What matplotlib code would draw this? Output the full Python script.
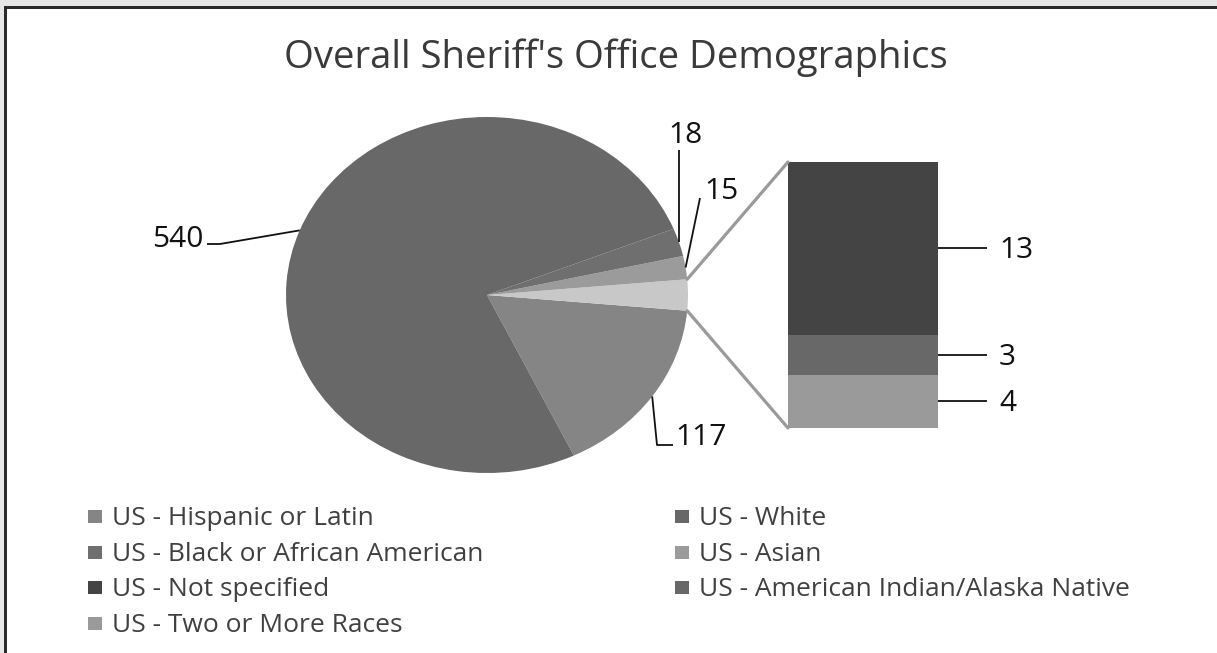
import numpy as np
import matplotlib
matplotlib.use("Agg")
import matplotlib.pyplot as plt
from matplotlib.patches import Rectangle, ConnectionPatch

# ---------------- data ----------------
title = "Overall Sheriff's Office Demographics"
legend_labels = ["US - Hispanic or Latin", "US - White", "US - Black or African American",
                 "US - Asian", "US - Not specified", "US - American Indian/Alaska Native",
                 "US - Two or More Races"]
pie_categories = ["US - Hispanic or Latin", "US - White", "US - Black or African American", "US - Asian"]
pie_values = [117, 540, 18, 15]
bar_categories = ["US - Not specified", "US - American Indian/Alaska Native", "US - Two or More Races"]
bar_values = [13, 3, 4]

colors = {
    "US - Hispanic or Latin": "#858585",
    "US - White": "#686868",
    "US - Black or African American": "#6f6f6f",
    "US - Asian": "#9b9b9b",
    "Other": "#c8c8c8",
    "US - Not specified": "#444444",
    "US - American Indian/Alaska Native": "#686868",
    "US - Two or More Races": "#9a9a9a",
}

plt.rcParams['font.family'] = ['Open Sans', 'DejaVu Sans']

W, H = 1217, 653
fig = plt.figure(figsize=(W / 100, H / 100), dpi=100)
fig.patch.set_facecolor("white")

def fig_rect(x0, y0, x1, y1):
    return [x0 / W, (H - y1) / H, (x1 - x0) / W, (y1 - y0) / H]

# overlay axes in pixel coordinates
ov = fig.add_axes([0, 0, 1, 1], zorder=5)
ov.set_xlim(0, W)
ov.set_ylim(H, 0)
ov.axis("off")
ov.patch.set_alpha(0)

def to_px(ax, x, y):
    return ov.transData.inverted().transform(ax.transData.transform((x, y)))

# ---------------- pie ----------------
other_total = sum(bar_values)
pie_map = dict(zip(pie_categories, pie_values))
wedge_names = ["US - Hispanic or Latin", "Other", "US - Asian",
               "US - Black or African American", "US - White"]
wedge_vals = [pie_map.get(n, other_total) for n in wedge_names]
total = sum(wedge_vals)
startangle = -(pie_map["US - Hispanic or Latin"] + other_total / 2) / total * 360

ax_pie = fig.add_axes(fig_rect(286, 117, 688, 473), zorder=2)
wedges, _ = ax_pie.pie(wedge_vals, colors=[colors[n] for n in wedge_names],
                       startangle=startangle, counterclock=True, radius=1,
                       wedgeprops=dict(linewidth=0))
ax_pie.set_aspect("auto")
ax_pie.set_xlim(-1, 1)
ax_pie.set_ylim(-1, 1)
ax_pie.axis("off")

wmap = dict(zip(wedge_names, wedges))

def mid_point(name):
    w = wmap[name]
    a = np.deg2rad((w.theta1 + w.theta2) / 2)
    return to_px(ax_pie, np.cos(a), np.sin(a))

# ---------------- bar ----------------
ax_bar = fig.add_axes(fig_rect(788, 162, 938, 428), zorder=2)
bar_order = list(reversed(bar_categories))   # bottom to top
bar_vals_order = list(reversed(bar_values))
bottom = 0
bar_mids = {}
for name, v in zip(bar_order, bar_vals_order):
    ax_bar.bar(0, v, width=1, bottom=bottom, color=colors[name], linewidth=0)
    bar_mids[name] = (bottom + v / 2, v)
    bottom += v
ax_bar.set_xlim(-0.5, 0.5)
ax_bar.set_ylim(0, other_total)
ax_bar.axis("off")

# connectors
w_other = wmap["Other"]
for ang, yb in [(w_other.theta2, other_total), (w_other.theta1, 0)]:
    a = np.deg2rad(ang)
    cp = ConnectionPatch(xyA=(np.cos(a), np.sin(a)), coordsA=ax_pie.transData,
                         xyB=(-0.5, yb), coordsB=ax_bar.transData,
                         color="#9a9a9a", linewidth=2.3, zorder=3)
    fig.add_artist(cp)

label_kw = dict(fontsize=21.5, color="#111111", va="baseline")
line_kw = dict(color="#111111", linewidth=1.3, solid_capstyle="butt")

# bar labels
for name in bar_categories:
    ym, v = bar_mids[name]
    x0, y0 = to_px(ax_bar, 0.5, ym)
    ov.plot([x0, x0 + 49], [y0, y0], **line_kw)
    ov.text(x0 + 61, y0 + 10, f"{v}", ha="left", **label_kw)

# pie labels
# White
px, py = mid_point("US - White")
ov.plot([px, 220, 207], [py, 244, 244], **line_kw)
ov.text(203, 247, f"{pie_map['US - White']}", ha="right", **label_kw)
# Black
px, py = mid_point("US - Black or African American")
ov.plot([px, px], [py, 150], **line_kw)
ov.text(685, 143, f"{pie_map['US - Black or African American']}", ha="center", **label_kw)
# Asian
px, py = mid_point("US - Asian")
ov.plot([px, 700], [py, 198], **line_kw)
ov.text(704, 199, f"{pie_map['US - Asian']}", ha="left", **label_kw)
# Hispanic
px, py = mid_point("US - Hispanic or Latin")
ov.plot([px, 657, 673], [py, 445, 445], **line_kw)
ov.text(675, 445, f"{pie_map['US - Hispanic or Latin']}", ha="left", **label_kw)

# ---------------- title ----------------
ov.text(616, 68, title, ha="center", va="baseline", fontsize=27.5, color="#3a3a3a")

# ---------------- legend (row-major, two columns) ----------------
col_x = [88, 675]
row_y = [517, 553, 588, 624]
for i, lab in enumerate(legend_labels):
    r, c = divmod(i, 2)
    x, y = col_x[c], row_y[r]
    ov.add_patch(Rectangle((x, y - 7), 14, 13, facecolor=colors[lab], edgecolor="none"))
    ov.text(x + 24, y + 8, lab, ha="left", va="baseline", fontsize=19, color="#404040")

# ---------------- border ----------------
ov.add_patch(Rectangle((0, 0), W, 6, facecolor="#e6e6e6", edgecolor="none"))
ov.add_patch(Rectangle((0, 0), 4, H, facecolor="#e6e6e6", edgecolor="none"))
ov.add_patch(Rectangle((4, 6), W, 3, facecolor="#2b2b2b", edgecolor="none"))
ov.add_patch(Rectangle((4, 6), 3, H, facecolor="#2b2b2b", edgecolor="none"))

fig.savefig("out.png", dpi=100, facecolor="white")
